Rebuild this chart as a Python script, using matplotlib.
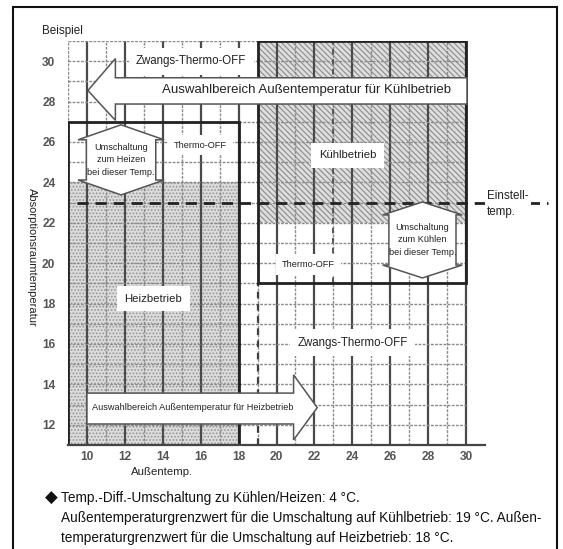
"""Umschaltdiagramm Kühlen/Heizen (Beispiel)"""
import matplotlib
matplotlib.use("Agg")
import matplotlib.pyplot as plt
from matplotlib.patches import Rectangle, Polygon
from matplotlib.lines import Line2D

# no narrow face installed -> regular face at reduced size
FONT = ['Liberation Sans', 'DejaVu Sans']

# axes / ticks
x_ticks = [10, 12, 14, 16, 18, 20, 22, 24, 26, 28, 30]
y_ticks = [12, 14, 16, 18, 20, 22, 24, 26, 28, 30]
x_grid = list(range(9, 31))
y_grid = list(range(11, 32))

# switching values
set_temp = 23          # Einstelltemp.
heat_limit = 18        # Außentemp.-Grenzwert Heizbetrieb
cool_limit = 19        # Außentemp.-Grenzwert Kühlbetrieb

# zones: x0, x1, y0, y1
heat_zone = [9, 18, 11, 27]
heat_on = [9, 18, 11, 24]
cool_zone = [19, 30, 19, 31]
cool_on = [19, 30, 22, 31]

# selection arrows: tip x, head base x, tail x, centre y
cool_sel = [10.05, 11.5, 30.05, 28.55]
heat_sel = [22.15, 20.9, 10.0, 12.85]

# switch arrows (double headed): centre x, top tip y, bottom tip y
heat_switch = [11.8, 26.85, 23.38]
cool_switch = [27.7, 23.03, 19.27]

labels = [
    ("Zwangs-Thermo-OFF", 15.5, 30.0, 8.3),
    ("Thermo-OFF", 16.0, 25.85, 6.6),
    ("Kühlbetrieb", 23.75, 25.35, 8.2),
    ("Heizbetrieb", 13.5, 18.25, 8.2),
    ("Thermo-OFF", 21.7, 19.95, 6.6),
    ("Zwangs-Thermo-OFF", 24.0, 16.05, 8.3),
]

footer = [
    "Temp.-Diff.-Umschaltung zu Kühlen/Heizen: 4 °C.",
    "Außentemperaturgrenzwert für die Umschaltung auf Kühlbetrieb: 19 °C. Außen-",
    "temperaturgrenzwert für die Umschaltung auf Heizbetrieb: 18 °C.",
]

plt.rcParams['hatch.linewidth'] = 0.8

fig = plt.figure(figsize=(5.63, 5.49), dpi=100)
ax = fig.add_axes([68 / 563, 104 / 549, 417 / 563, 404 / 549])
ax.set_xlim(9, 31)
ax.set_ylim(11, 31)


def rect(zone, **kw):
    x0, x1, y0, y1 = zone
    return Rectangle((x0, y0), x1 - x0, y1 - y0, **kw)


# shaded operating areas
ax.add_patch(rect(heat_on, facecolor='#dcdcdc', edgecolor='#959595',
                  hatch='.....', lw=0, zorder=1))
ax.add_patch(rect(cool_on, facecolor='#dedede', edgecolor='#8c8c8c',
                  hatch='\\\\\\\\\\\\', lw=0, zorder=1))

# grid
for x in x_grid:
    if x % 2 == 0:
        ax.plot([x, x], [11, 31], color='#4a4a4a', lw=1.6, zorder=2)
    else:
        ax.plot([x, x], [11, 31], color='#8a8a8a', lw=1.0,
                linestyle=(0, (2, 1)), zorder=2)
for y in y_grid:
    ax.plot([9, 30], [y, y], color='#8a8a8a', lw=1.0,
            linestyle=(0, (2, 1)), zorder=2)

# dashed vertical markers
ax.plot([cool_limit, cool_limit], [11, cool_zone[2]], color='#404040', lw=1.6,
        linestyle=(0, (3, 2.5)), zorder=2.5)
ax.plot([23, 23], [cool_zone[2], 31], color='#505050', lw=1.3,
        linestyle=(0, (3, 2.5)), zorder=2.5)

# zone frames
ax.add_patch(rect(heat_zone, facecolor='none', edgecolor='#222222', lw=2.0, zorder=3))
ax.add_patch(rect(cool_zone, facecolor='none', edgecolor='#222222', lw=2.0, zorder=3))

# set temperature line
set_line = Line2D([9.5, 34.35], [set_temp, set_temp], color='#222222', lw=2.0,
                  linestyle=(0, (4, 2.5)), zorder=3.5, clip_on=False)
ax.add_line(set_line)
ax.text(31.1, set_temp - 0.05, "Einstell-\ntemp.", fontsize=8.4, family=FONT,
        ha='left', va='center', color='#222222', linespacing=1.45, zorder=6,
        clip_on=False, bbox=dict(facecolor='white', edgecolor='none', pad=1.5))

arrow_style = dict(facecolor='white', edgecolor='#555555', lw=1.1, zorder=4)

# cooling selection arrow (points left)
tip, base, tail, yc = cool_sel
ax.add_patch(Polygon([(tip, yc), (base, yc + 1.58), (base, yc + 0.63),
                      (tail, yc + 0.63), (tail, yc - 0.67), (base, yc - 0.67),
                      (base, yc - 1.48)], closed=True, **arrow_style))
ax.text(21.6, yc + 0.02, "Auswahlbereich Außentemperatur für Kühlbetrieb",
        fontsize=9.5, family=FONT, ha='center', va='center',
        color='#222222', zorder=5)

# heating selection arrow (points right)
tip, base, tail, yc = heat_sel
ax.add_patch(Polygon([(tip, yc), (base, yc + 1.62), (base, yc + 0.72),
                      (tail, yc + 0.72), (tail, yc - 0.81), (base, yc - 0.81),
                      (base, yc - 1.6)], closed=True, **arrow_style))
ax.text(15.6, yc, "Auswahlbereich Außentemperatur für Heizbetrieb",
        fontsize=6.6, family=FONT, ha='center', va='center',
        color='#222222', zorder=5)


def switch_arrow(spec, half_head, half_body, head_h, text):
    xc, ytop, ybot = spec
    y1 = ytop - head_h
    y2 = ybot + head_h
    pts = [(xc, ytop), (xc + half_head, y1), (xc + half_body, y1),
           (xc + half_body, y2), (xc + half_head, y2), (xc, ybot),
           (xc - half_head, y2), (xc - half_body, y2), (xc - half_body, y1),
           (xc - half_head, y1)]
    ax.add_patch(Polygon(pts, closed=True, **arrow_style))
    ax.text(xc, (y1 + y2) / 2, text, fontsize=6.6, family=FONT,
            ha='center', va='center', color='#222222', linespacing=1.55,
            zorder=5)


switch_arrow(heat_switch, 2.27, 1.83, 0.74,
             "Umschaltung\nzum Heizen\nbei dieser Temp.")
switch_arrow(cool_switch, 2.1, 1.77, 0.64,
             "Umschaltung\nzum Kühlen\nbei dieser Temp.")

# area labels
for text, x, y, size in labels:
    ax.text(x, y, text, fontsize=size, family=FONT, ha='center', va='center',
            color='#222222', zorder=5,
            bbox=dict(facecolor='white', edgecolor='none',
                      boxstyle='square,pad=0.65'))

# axes styling
for side in ['top', 'right', 'left']:
    ax.spines[side].set_visible(False)
ax.spines['bottom'].set_color('#444444')
ax.spines['bottom'].set_linewidth(1.6)
ax.spines['bottom'].set_zorder(3)
ax.set_xticks(x_ticks)
ax.set_yticks(y_ticks)
ax.tick_params(length=0, colors='#555555')
ax.tick_params(axis='x', pad=4)
ax.tick_params(axis='y', pad=9)
for lab in ax.get_xticklabels() + ax.get_yticklabels():
    lab.set_family(FONT)
    lab.set_fontsize(8.6)
    lab.set_fontweight('bold')

# figure texts
fig.text(42 / 563, 1 - 31 / 549, "Beispiel", fontsize=8.4, family=FONT,
         ha='left', va='center', color='#222222')
fig.text(32 / 563, 1 - 257 / 549, "Absorptionsraumtemperatur", fontsize=8.0,
         family=FONT, rotation=270, ha='center', va='center', color='#222222')
fig.text(162 / 563, 1 - 472 / 549, "Außentemp.", fontsize=8.2, family=FONT,
         ha='center', va='center', color='#222222')

fig.text(51 / 563, 1 - 498 / 549, "◆", fontsize=12, family=['DejaVu Sans'],
         ha='center', va='center', color='#111111')
for i, line in enumerate(footer):
    fig.text(61 / 563, 1 - (498 + 20 * i) / 549, line, fontsize=9.8,
             family=FONT, ha='left', va='center', color='#111111')

# outer frame
fig.add_artist(Rectangle((13 / 563, -0.02), 544 / 563, 1.02 - 7 / 549,
                         transform=fig.transFigure, facecolor='none',
                         edgecolor='#111111', lw=1.5))

fig.savefig("out.png", dpi=100)
